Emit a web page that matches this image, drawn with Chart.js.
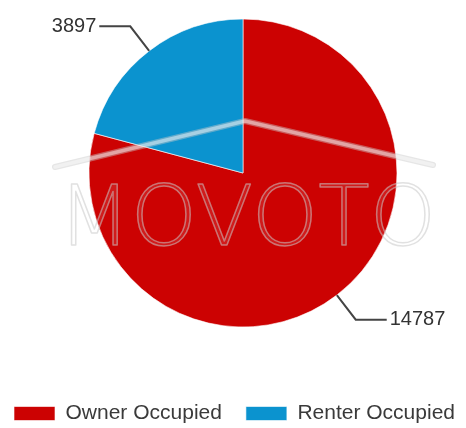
<!DOCTYPE html>
<html>
<head>
<meta charset="utf-8">
<script src="https://cdn.jsdelivr.net/npm/chart.js@4"></script>
<style>
  html, body { margin: 0; padding: 0; background: #fff; }
  #wrap { width: 466px; height: 428px; }
</style>
</head>
<body>
<div id="wrap"><canvas id="grafico"></canvas></div>
<script>
// datos del grafico
const categorias = ['Owner Occupied', 'Renter Occupied'];
const valores = [14787, 3897];
const colores = ['#CC0202', '#0B93CF'];

// marca de agua "MOVOTO" con el techo
const marcaAgua = {
    id: 'marcaAgua',
    afterDatasetsDraw(chart) {
        const arc = chart.getDatasetMeta(0).data[0];
        if (!arc) return;
        const { x: cx, y: cy } = arc.getProps(['x', 'y'], true);
        const ctx = chart.ctx;
        ctx.save();
        // techo
        ctx.beginPath();
        ctx.moveTo(cx - 188, cy - 6);
        ctx.lineTo(cx + 2, cy - 52);
        ctx.lineTo(cx + 190, cy - 8);
        ctx.lineCap = 'round';
        ctx.lineJoin = 'round';
        ctx.strokeStyle = 'rgba(200,200,200,0.45)';
        ctx.lineWidth = 6;
        ctx.stroke();
        ctx.strokeStyle = 'rgba(255,255,255,0.45)';
        ctx.lineWidth = 3.5;
        ctx.stroke();
        // texto
        ctx.font = '200 84px "DejaVu Sans"';
        ctx.textAlign = 'center';
        ctx.textBaseline = 'alphabetic';
        const ancho = ctx.measureText('MOVOTO').width;
        const escala = 378 / ancho;
        ctx.translate(cx + 4, cy + 72);
        ctx.scale(escala, 1);
        ctx.fillStyle = 'rgba(255,255,255,0.10)';
        ctx.fillText('MOVOTO', 0, 0);
        ctx.strokeStyle = 'rgba(200,200,200,0.55)';
        ctx.lineWidth = 1.5;
        ctx.strokeText('MOVOTO', 0, 0);
        ctx.restore();
    }
};

// etiquetas con linea guia
const etiquetasGuia = {
    id: 'etiquetasGuia',
    afterDatasetsDraw(chart) {
        const ctx = chart.ctx;
        const meta = chart.getDatasetMeta(0);
        ctx.save();
        ctx.font = '20px "Liberation Sans", Arial, sans-serif';
        ctx.textBaseline = 'middle';
        meta.data.forEach((arc, i) => {
            const p = arc.getProps(['x', 'y', 'startAngle', 'endAngle', 'outerRadius'], true);
            const ang = (p.startAngle + p.endAngle) / 2;
            const cos = Math.cos(ang), sin = Math.sin(ang);
            const x0 = p.x + cos * p.outerRadius;
            const y0 = p.y + sin * p.outerRadius;
            const x1 = p.x + cos * (p.outerRadius + 31);
            const y1 = p.y + sin * (p.outerRadius + 31);
            const lado = cos >= 0 ? 1 : -1;
            const x2 = x1 + lado * 31;
            ctx.beginPath();
            ctx.moveTo(x0, y0);
            ctx.lineTo(x1, y1);
            ctx.lineTo(x2, y1);
            ctx.strokeStyle = '#444';
            ctx.lineWidth = 2;
            ctx.stroke();
            ctx.fillStyle = '#333';
            ctx.textAlign = lado > 0 ? 'left' : 'right';
            ctx.fillText(String(valores[i]), x2 + lado * 3, y1);
        });
        ctx.restore();
    }
};

new Chart(document.getElementById('grafico').getContext('2d'), {
    type: 'pie',
    data: {
        labels: categorias,
        datasets: [{
            data: valores,
            backgroundColor: colores,
            borderColor: 'rgba(255,255,255,0.6)',
            borderWidth: 1,
            radius: 154
        }]
    },
    options: {
        responsive: true,
        maintainAspectRatio: false,
        animation: false,
        layout: { padding: { top: 0, bottom: -6, left: -10, right: -30 } },
        plugins: {
            tooltip: { enabled: false },
            // caja vacia a la izquierda para correr la torta
            subtitle: {
                display: true,
                position: 'left',
                text: ' ',
                color: 'rgba(0,0,0,0)',
                font: { size: 10, lineHeight: 1 },
                padding: 10
            },
            legend: {
                position: 'bottom',
                align: 'start',
                title: {
                    display: true,
                    text: ' ',
                    color: 'rgba(0,0,0,0)',
                    font: { size: 13, lineHeight: 1 },
                    padding: 10
                },
                labels: {
                    boxWidth: 41,
                    boxHeight: 14,
                    padding: 24,
                    color: '#3a3a3a',
                    font: { family: '"Liberation Sans", Arial, sans-serif', size: 21 }
                }
            }
        }
    },
    plugins: [marcaAgua, etiquetasGuia]
});
</script>
</body>
</html>
